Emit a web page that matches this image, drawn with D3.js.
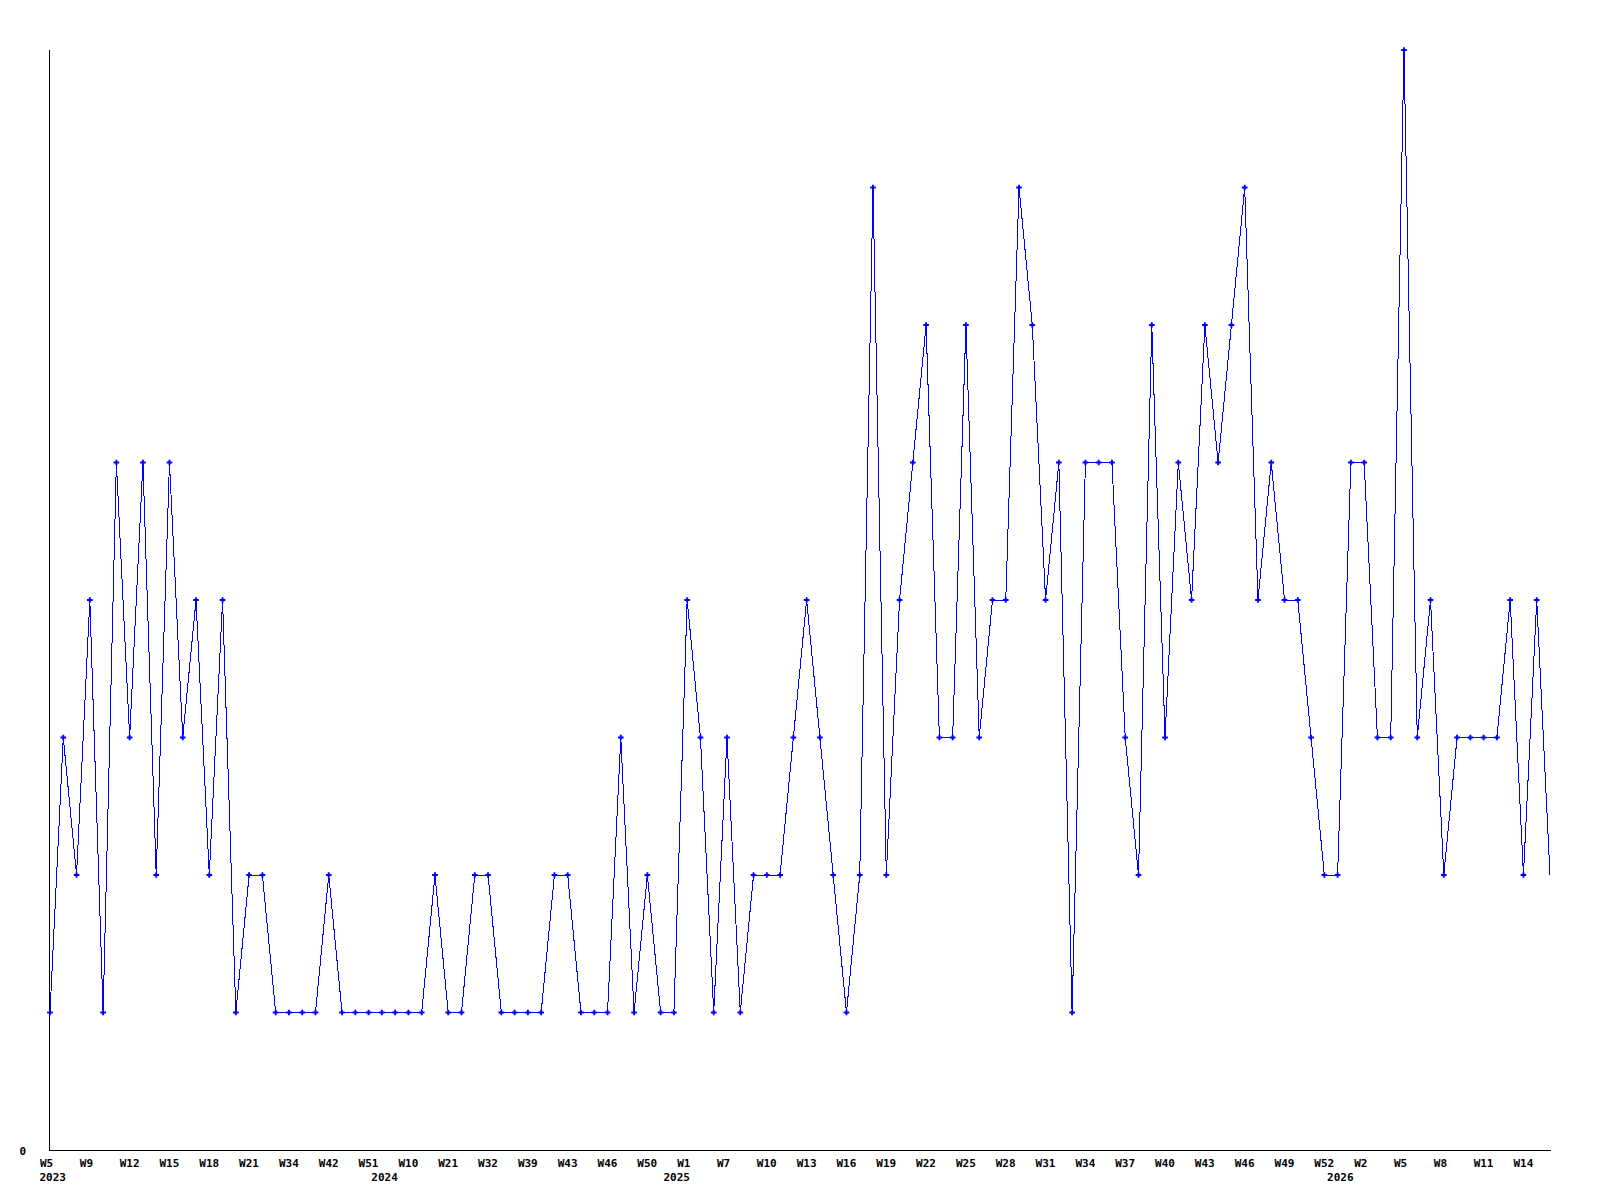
<!DOCTYPE html>
<html>
<head>
<meta charset="utf-8">
<script src="https://cdn.jsdelivr.net/npm/d3@7"></script>
<style>
  body { margin: 0; background: #fff; }
  text { font-family: "DejaVu Sans Mono", monospace; font-weight: bold; font-size: 11px; }
</style>
</head>
<body>
<div id="canvas"></div>
<script>
/* DATA: WEEKLY COUNTS, ONE PER WEEK */
const counts = [
  1, 3, 2, 4, 1, 5, 3, 5, 2, 5,
  3, 4, 2, 4, 1, 2, 2, 1, 1, 1,
  1, 2, 1, 1, 1, 1, 1, 1, 1, 2,
  1, 1, 2, 2, 1, 1, 1, 1, 2, 2,
  1, 1, 1, 3, 1, 2, 1, 1, 4, 3,
  1, 3, 1, 2, 2, 2, 3, 4, 3, 2,
  1, 2, 7, 2, 4, 5, 6, 3, 3, 6,
  3, 4, 4, 7, 6, 4, 5, 1, 5, 5,
  5, 3, 2, 6, 3, 5, 4, 6, 5, 6,
  7, 4, 5, 4, 4, 3, 2, 2, 5, 5,
  3, 3, 8, 3, 4, 2, 3, 3, 3, 3,
  4, 2, 4, 2
];

/* WEEK LABELS, SHOWN ON EVERY THIRD POINT */
const weekLabels = [
  "W5", "W9", "W12", "W15", "W18", "W21", "W34", "W42", "W51",
  "W10", "W21", "W32", "W39", "W43", "W46", "W50",
  "W1", "W7", "W10", "W13", "W16", "W19", "W22", "W25", "W28", "W31",
  "W34", "W37", "W40", "W43", "W46", "W49", "W52",
  "W2", "W5", "W8", "W11", "W14"
];
const labelStep = 3;

/* YEAR LABELS AND THE POINT THEY SIT UNDER */
const years = ["2023", "2024", "2025", "2026"];
const yearIndex = [0, 25, 47, 97];

const yTicks = [0];

/* CREATE THE SVG CANVAS */
const width = 1600;
const height = 1200;
const mLeft = 50, mRight = 1550, mTop = 50, mBottom = 1150;

const svg = d3.select("#canvas")
    .append("svg")
    .attr("width", width)
    .attr("height", height);

const idx = d3.range(counts.length);

const x = d3.scalePoint()
    .domain(idx)
    .range([mLeft, mRight]);

const y = d3.scaleLinear()
    .domain([0, 8])
    .range([mBottom, mTop]);

/* X AXIS WITH WEEK LABELS */
const xAxis = d3.axisBottom(x)
    .tickValues(idx.filter(i => i % labelStep === 0))
    .tickSize(0)
    .tickPadding(0)
    .tickFormat(i => weekLabels[i / labelStep]);

const gx = svg.append("g")
    .attr("transform", `translate(0,${mBottom})`)
    .call(xAxis);
gx.select(".domain").attr("stroke", "#000").attr("d", `M${mLeft},0.5H${mRight + 1}`);
gx.selectAll("text")
    .attr("fill", "#000")
    .attr("text-anchor", "start")
    .attr("dx", -10.5)
    .attr("dy", null)
    .attr("y", 17);

/* YEAR LABELS */
svg.append("g")
    .selectAll("text")
    .data(years)
    .join("text")
    .attr("x", (d, i) => x(yearIndex[i]) - 10.5)
    .attr("y", mBottom + 31)
    .attr("fill", "#000")
    .text(d => d);

/* Y AXIS, ONLY THE ZERO LABEL */
const yAxis = d3.axisLeft(y)
    .tickValues(yTicks)
    .tickSize(0)
    .tickPadding(0);

const gy = svg.append("g")
    .attr("transform", `translate(${mLeft},0)`)
    .call(yAxis);
gy.select(".domain").attr("stroke", "#000").attr("d", `M-0.5,${mTop}V${mBottom + 1}`);
gy.selectAll("text")
    .attr("fill", "#000")
    .attr("x", -24)
    .attr("dy", null)
    .attr("y", 4);

/* THE LINE */
const line = d3.line()
    .x((d, i) => x(i))
    .y(d => y(d));

svg.append("path")
    .datum(counts)
    .attr("fill", "none")
    .attr("stroke", "#0000ff")
    .attr("stroke-width", 1)
    .attr("shape-rendering", "crispEdges")
    .attr("d", line);

/* MARKERS (NOT ON THE LAST, UNFINISHED WEEK) */
svg.append("g")
    .selectAll("path")
    .data(counts.slice(0, -1))
    .join("path")
    .attr("transform", (d, i) => `translate(${x(i)},${y(d)})`)
    .attr("d", d3.symbol(d3.symbolCross, 18))
    .attr("fill", "#0000ff");
</script>
</body>
</html>
